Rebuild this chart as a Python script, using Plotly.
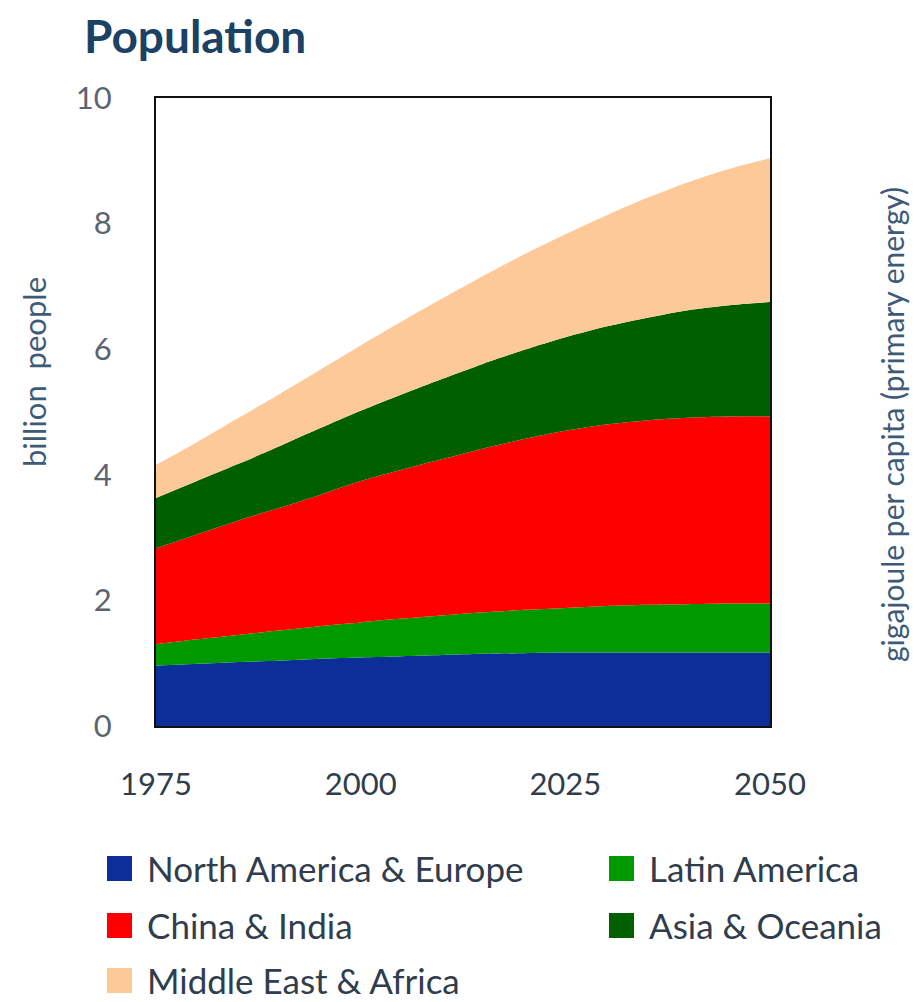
import plotly.graph_objects as go

# Years on the horizontal axis
years = [1975, 1980, 1985, 1990, 1995, 2000, 2005, 2010, 2015, 2020,
         2025, 2030, 2035, 2040, 2045, 2050]

# Population by region, billion people (layer thickness, stacked bottom to top)
north_america_europe = [0.96, 0.99, 1.02, 1.04, 1.07, 1.09, 1.11, 1.13, 1.15, 1.16,
                        1.17, 1.17, 1.17, 1.17, 1.17, 1.17]
latin_america = [0.34, 0.39, 0.43, 0.48, 0.52, 0.56, 0.60, 0.63, 0.66, 0.69,
                 0.71, 0.74, 0.76, 0.77, 0.78, 0.78]
china_india = [1.53, 1.67, 1.82, 1.95, 2.09, 2.25, 2.37, 2.49, 2.61, 2.72,
               2.82, 2.89, 2.94, 2.97, 2.98, 2.98]
asia_oceania = [0.80, 0.85, 0.90, 0.98, 1.06, 1.12, 1.20, 1.28, 1.35, 1.42,
                1.49, 1.56, 1.63, 1.71, 1.77, 1.82]
middle_east_africa = [0.53, 0.62, 0.73, 0.83, 0.93, 1.04, 1.16, 1.28, 1.40, 1.52,
                      1.64, 1.77, 1.91, 2.04, 2.17, 2.29]

series_names = ["North America & Europe", "Latin America", "China & India",
                "Asia & Oceania", "Middle East & Africa"]
series_values = [north_america_europe, latin_america, china_india,
                 asia_oceania, middle_east_africa]
series_colors = ["#0b2e99", "#009900", "#ff0000", "#006000", "#fdc999"]

y_ticks = [0, 2, 4, 6, 8, 10]
x_ticks = [1975, 2000, 2025, 2050]

FONT = "Lato"
TEXT = "#2f3d4c"
AXIS_TITLE = "#3d5b78"

fig = go.Figure()
for name, vals, col in zip(series_names, series_values, series_colors):
    fig.add_trace(go.Scatter(
        x=years, y=vals, name=name, mode="lines",
        stackgroup="pop", line=dict(width=0, shape="spline", smoothing=0.8, color=col),
        fillcolor=col, showlegend=False, hoverinfo="x+y+name",
    ))

# Legend drawn as coloured squares with labels, two columns
legend_rows = [(0, 0), (0, 1), (1, 0), (1, 1), (2, 0)]
col_x = [107, 609]
row_y = [868, 925, 980]
W, H = 913, 1002
for (r, c), name, col in zip(legend_rows, series_names, series_colors):
    x0 = col_x[c]
    yc = row_y[r]
    fig.add_shape(type="rect", xref="paper", yref="paper",
                  x0=(x0 - 156) / 614, x1=(x0 + 25 - 156) / 614,
                  y0=(726 - (yc + 13)) / 628, y1=(726 - (yc - 12)) / 628,
                  fillcolor=col, line=dict(width=0))
    fig.add_annotation(text=name, xref="paper", yref="paper",
                       x=(x0 + 38 - 156) / 614, y=(726 - yc) / 628,
                       xanchor="left", yanchor="middle", showarrow=False,
                       font=dict(family=FONT, size=35, color=TEXT))

# Title
fig.add_annotation(text="<b>Population</b>", xref="paper", yref="paper",
                   x=(82 - 156) / 614, y=(726 - 36) / 628, xanchor="left",
                   yanchor="middle", showarrow=False,
                   font=dict(family=FONT, size=46, color="#1b4164"))

# Axis titles
fig.add_annotation(text="billion  people", xref="paper", yref="paper",
                   x=(34 - 156) / 614, y=(726 - 372) / 628, textangle=-90,
                   xanchor="center", yanchor="middle", showarrow=False,
                   font=dict(family=FONT, size=31, color=AXIS_TITLE))
fig.add_annotation(text="gigajoule per capita (primary energy)", xref="paper", yref="paper",
                   x=(892 - 156) / 614, y=(726 - 425) / 628, textangle=-90,
                   xanchor="center", yanchor="middle", showarrow=False,
                   font=dict(family=FONT, size=30, color=AXIS_TITLE))

fig.update_layout(
    width=W, height=H,
    margin=dict(l=156, r=143, t=98, b=276),
    paper_bgcolor="white", plot_bgcolor="white",
    showlegend=False,
    font=dict(family=FONT, color=TEXT),
    xaxis=dict(range=[1975, 2050], tickvals=x_ticks, ticks="", showgrid=False,
               zeroline=False, showline=True, linecolor="#111", linewidth=2,
               mirror=True, tickfont=dict(size=31, color=TEXT), ticklabelstandoff=30),
    yaxis=dict(range=[0, 10], tickvals=y_ticks, ticks="", showgrid=False,
               zeroline=False, showline=True, linecolor="#111", linewidth=2,
               mirror=True, tickfont=dict(size=31, color="#5a6570"), ticklabelstandoff=36),
)

fig.write_html("out.html")
